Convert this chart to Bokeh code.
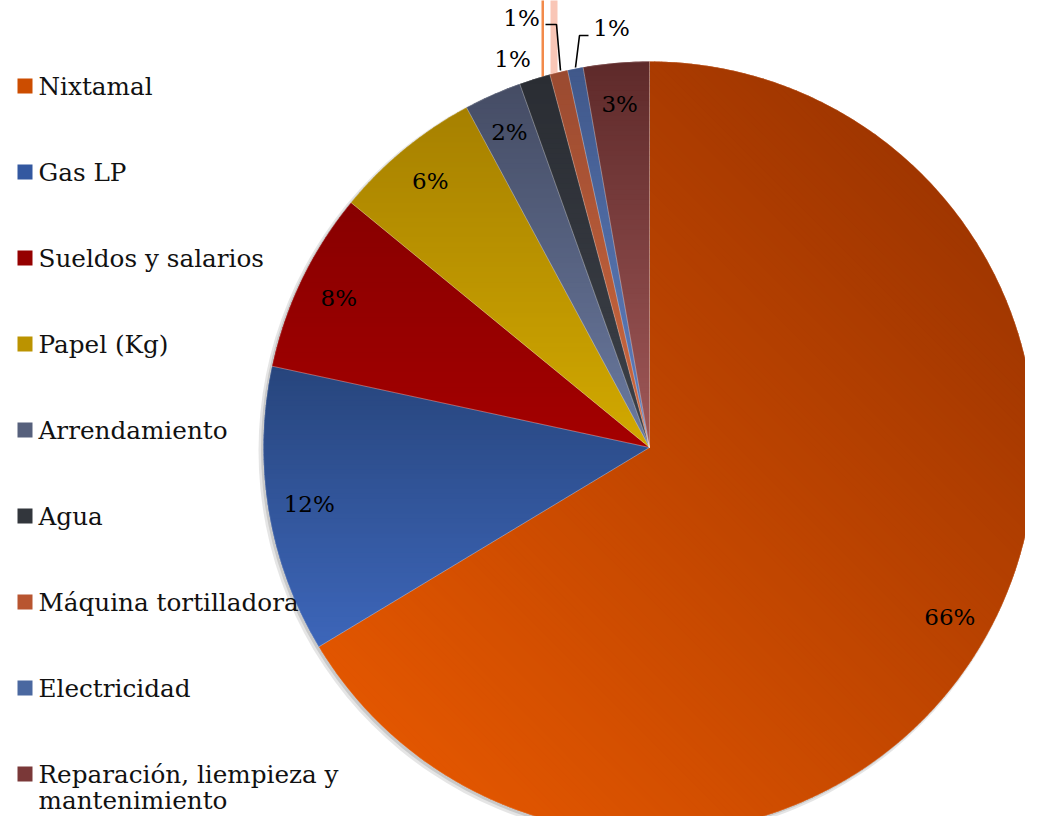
import math
import numpy as np
from bokeh.plotting import figure
from bokeh.models import Range1d
from bokeh.embed import file_html
from bokeh.resources import INLINE
from bokeh.core.properties import value

# ---------------- data ----------------
categories = ["Nixtamal", "Gas LP", "Sueldos y salarios", "Papel (Kg)", "Arrendamiento",
              "Agua", "Máquina tortilladora", "Electricidad",
              "Reparación, liempieza y mantenimiento"]
shares = [66.3, 12.0, 7.55, 6.2, 2.4, 1.3, 0.75, 0.65, 2.75]
pct_labels = ["66%", "12%", "8%", "6%", "2%", "1%", "1%", "1%", "3%"]
legend_lines = [["Nixtamal"], ["Gas LP"], ["Sueldos y salarios"], ["Papel (Kg)"],
                ["Arrendamiento"], ["Agua"], ["Máquina tortilladora"], ["Electricidad"],
                ["Reparación, liempieza y", "mantenimiento"]]
colors = ["#cc4d00", "#3358a0", "#950000", "#bb9300", "#56607c",
          "#32363c", "#b85530", "#4a68a0", "#7a3838"]
colors_top = ["#a03600", "#27457c", "#880000", "#a68000", "#454c64",
              "#2a2d33", "#9a4a30", "#40588a", "#5e2a2a"]
colors_bottom = ["#e25600", "#3d66ba", "#a40000", "#d2a900", "#6a7aa0",
                 "#3c4048", "#d06a40", "#6080c0", "#a05858"]
# gradient direction per slice (screen coords, x right, y down)
grad_dirs = [(-0.7071, 0.7071)] + [(0.0, 1.0)] * 8

# ---------------- layout (picture pixel coords, y down) ----------------
W, H = 1025, 816
CX, CY, R = 649, 447, 386
FONT = "DejaVu Serif"
FS_LEG = "24.7px"
FS_LAB = "23px"
LABEL_R = 345
outside = {5: (512, 58, None), 6: (521, 17, [(545, 24), (556, 24), (560, 70)]),
           7: (611, 27, [(588, 35), (579, 35), (575, 67)])}

p = figure(width=W, height=H, output_backend="svg", toolbar_location=None,
           x_range=Range1d(0, W), y_range=Range1d(-H, 0),
           min_border=0, outline_line_color=None)
p.axis.visible = False
p.grid.visible = False
p.background_fill_color = "white"
p.border_fill_color = "white"

# stray vertical marks seen in the reference
p.quad(left=[541], right=[543.5], top=[10], bottom=[-H - 10], fill_color="#f28a4a", line_color=None)
p.quad(left=[550], right=[557], top=[10], bottom=[-H - 10], fill_color="#f9c6b6", line_color=None)

# soft shadow
p.circle(x=[CX - 3], y=[-(CY + 3)], radius=R + 2, fill_color="#000000", fill_alpha=0.10, line_color=None)
p.circle(x=[CX - 2], y=[-(CY + 2)], radius=R + 0.5, fill_color="#000000", fill_alpha=0.12, line_color=None)

total = sum(shares)
cum = 0.0
starts, ends, mids = [], [], []
for s in shares:
    c0 = cum / total
    cum += s
    c1 = cum / total
    starts.append(math.pi / 2 - 2 * math.pi * c1)
    ends.append(math.pi / 2 - 2 * math.pi * c0)
    mids.append(math.pi / 2 - 2 * math.pi * (c0 + c1) / 2)

p.wedge(x=CX, y=-CY, radius=R, start_angle=starts, end_angle=ends,
        fill_color=colors, line_color=None)


# ---- linear gradient shading of each slice (bands clipped to the wedge) ----
def clip_half(poly, d, lim, keep_ge):
    out = []
    n = len(poly)
    f = lambda q: q[0] * d[0] + q[1] * d[1]
    for k in range(n):
        a, b = poly[k], poly[(k + 1) % n]
        fa, fb = f(a), f(b)
        ina = fa >= lim if keep_ge else fa <= lim
        inb = fb >= lim if keep_ge else fb <= lim
        if ina:
            out.append(a)
        if ina != inb:
            t = (lim - fa) / (fb - fa)
            out.append((a[0] + t * (b[0] - a[0]), a[1] + t * (b[1] - a[1])))
    return out


def hex2rgb(h):
    return np.array([int(h[1:3], 16), int(h[3:5], 16), int(h[5:7], 16)], dtype=float)


bxs, bys, bcol = [], [], []
for i in range(len(shares)):
    angs = np.linspace(ends[i], starts[i], max(6, int(abs(ends[i] - starts[i]) * 120)))
    poly = [(CX, CY)] + [(CX + R * math.cos(a), CY - R * math.sin(a)) for a in angs]
    d = grad_dirs[i]
    proj = [q[0] * d[0] + q[1] * d[1] for q in poly]
    lo, hi = min(proj), max(proj)
    nb = max(4, int(math.ceil((hi - lo) / 5)))
    ct, cb = hex2rgb(colors_top[i]), hex2rgb(colors_bottom[i])
    for k in range(nb):
        a_lim = lo + (hi - lo) * k / nb
        b_lim = lo + (hi - lo) * (k + 1) / nb
        band = clip_half(clip_half(poly, d, a_lim - 0.4, True), d, b_lim + 0.4, False)
        if len(band) < 3:
            continue
        t = (k + 0.5) / nb
        c = ct + (cb - ct) * t
        bxs.append([q[0] for q in band])
        bys.append([-q[1] for q in band])
        bcol.append("#%02x%02x%02x" % tuple(int(round(v)) for v in c))
p.patches(xs=bxs, ys=bys, fill_color=bcol, line_color=None)

# slice separators
p.wedge(x=CX, y=-CY, radius=R, start_angle=starts, end_angle=ends,
        fill_alpha=0, line_color="white", line_alpha=0.3, line_width=0.6)

# percentage labels
lx, ly, lt = [], [], []
for i, lab in enumerate(pct_labels):
    if i in outside:
        x, y, leader = outside[i]
        if leader:
            p.line(x=[q[0] for q in leader], y=[-q[1] for q in leader], line_color="black", line_width=1.6)
    else:
        x = CX + LABEL_R * math.cos(mids[i])
        y = CY - LABEL_R * math.sin(mids[i])
    lx.append(x); ly.append(-y); lt.append(lab)
p.text(x=lx, y=ly, text=lt, text_font=value(FONT), text_font_size=FS_LAB,
       text_align="center", text_baseline="middle", text_color="black")

# legend
LEG_Y0, LEG_DY, LINE_DY = 85.5, 86.0, 26
sqx, sqy, tx, ty, tt = [], [], [], [], []
for i, lines in enumerate(legend_lines):
    mid = LEG_Y0 + i * LEG_DY
    sqx.append(24.5); sqy.append(-mid)
    for j, line in enumerate(lines):
        tx.append(38); ty.append(-(mid + j * LINE_DY)); tt.append(line)
p.rect(x=sqx, y=sqy, width=15, height=15, fill_color=colors, line_color=None)
p.text(x=tx, y=ty, text=tt, text_font=value(FONT), text_font_size=FS_LEG,
       text_align="left", text_baseline="middle", text_color="#111111")

open("out.html", "w").write(file_html(p, INLINE))
